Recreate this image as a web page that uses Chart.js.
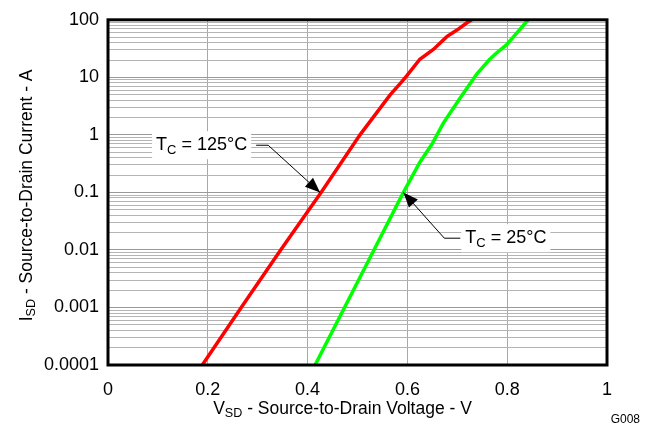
<!DOCTYPE html>
<html>
<head>
<meta charset="utf-8">
<script src="https://cdn.jsdelivr.net/npm/chart.js@4.4.1/dist/chart.umd.min.js"></script>
<style>
  html, body { margin: 0; padding: 0; background: #fff; }
  #grafico { display: block; }
</style>
</head>
<body>
<canvas id="grafico" width="652" height="426"></canvas>
<script>
// Curva Tc = 125 °C (roja)
const vsd125 = [0.189, 0.267, 0.346, 0.427, 0.505, 0.565, 0.585, 0.599, 0.625, 0.652, 0.679, 0.700, 0.718, 0.729];
const isd125 = [0.0001, 0.001, 0.01, 0.1, 1, 4.9, 7.7, 10.7, 20.6, 30.5, 51, 67, 87, 100];

// Curva Tc = 25 °C (verde)
const vsd25 = [0.415, 0.474, 0.533, 0.592, 0.625, 0.649, 0.672, 0.705, 0.739, 0.765, 0.779, 0.799, 0.842];
const isd25 = [0.0001, 0.001, 0.01, 0.1, 0.334, 0.686, 1.6, 4.3, 11.4, 20.6, 26.7, 37, 100];

// Ticks
const ticksX = [0, 0.2, 0.4, 0.6, 0.8, 1];
const decadasY = [0.0001, 0.001, 0.01, 0.1, 1, 10, 100];

const fuente = "'Liberation Sans', Arial, sans-serif";

function puntos(xs, ys) {
  return xs.map((x, i) => ({ x: x, y: ys[i] }));
}

// Texto con subíndices: partes = [{t, sub}]
function anchoRico(ctx, partes, tam) {
  let w = 0;
  partes.forEach(p => {
    ctx.font = (p.sub ? tam * 0.72 : tam) + "px " + fuente;
    w += ctx.measureText(p.t).width;
  });
  return w;
}

function dibujarRico(ctx, partes, x, y, tam) {
  ctx.textBaseline = "middle";
  ctx.textAlign = "left";
  partes.forEach(p => {
    const t = p.sub ? tam * 0.72 : tam;
    ctx.font = t + "px " + fuente;
    ctx.fillText(p.t, x, p.sub ? y + tam * 0.28 : y);
    x += ctx.measureText(p.t).width;
  });
}

// Etiquetas con flecha (en coordenadas de datos)
const anotaciones = [
  { partes: [{ t: "T" }, { t: "C", sub: true }, { t: " = 125°C" }], punta: [0.425, 0.1], codo: [0.321, 0.66], lado: "izq", tramo: 12, hueco: 9 },
  { partes: [{ t: "T" }, { t: "C", sub: true }, { t: " = 25°C" }], punta: [0.592, 0.1], codo: [0.674, 0.016], lado: "der", tramo: 16, hueco: 5 }
];

const pluginDecorado = {
  id: "decorado",
  afterDatasetsDraw(chart) {
    const ctx = chart.ctx;
    const sx = chart.scales.x;
    const sy = chart.scales.y;
    const area = chart.chartArea;
    const tam = 18;
    const tamTitulo = 17.5;

    ctx.save();
    // Anotaciones
    anotaciones.forEach(a => {
      const px = sx.getPixelForValue(a.punta[0]);
      const py = sy.getPixelForValue(a.punta[1]);
      const cx = sx.getPixelForValue(a.codo[0]);
      const cy = sy.getPixelForValue(a.codo[1]);
      const w = anchoRico(ctx, a.partes, tam);
      const ex = a.lado === "izq" ? cx - a.tramo : cx + a.tramo;
      const tx = a.lado === "izq" ? ex - a.hueco - w : ex + a.hueco;

      // fondo blanco
      ctx.fillStyle = "#fff";
      ctx.fillRect(tx - 4, cy - 14, w + 8, 28);

      // línea
      ctx.strokeStyle = "#000";
      ctx.lineWidth = 1;
      ctx.beginPath();
      ctx.moveTo(ex, cy);
      ctx.lineTo(cx, cy);
      ctx.lineTo(px, py);
      ctx.stroke();

      // punta de flecha
      const ang = Math.atan2(py - cy, px - cx);
      const largo = 15, medio = 6;
      ctx.fillStyle = "#000";
      ctx.beginPath();
      ctx.moveTo(px, py);
      ctx.lineTo(px - largo * Math.cos(ang) + medio * Math.sin(ang), py - largo * Math.sin(ang) - medio * Math.cos(ang));
      ctx.lineTo(px - largo * Math.cos(ang) - medio * Math.sin(ang), py - largo * Math.sin(ang) + medio * Math.cos(ang));
      ctx.closePath();
      ctx.fill();

      ctx.fillStyle = "#000";
      dibujarRico(ctx, a.partes, tx, cy, tam);
    });

    // Marco
    ctx.strokeStyle = "#000";
    ctx.lineWidth = 3;
    ctx.strokeRect(area.left, area.top, area.right - area.left, area.bottom - area.top);

    // Título eje X
    ctx.fillStyle = "#000";
    const tituloX = [{ t: "V" }, { t: "SD", sub: true }, { t: " - Source-to-Drain Voltage - V" }];
    const wx = anchoRico(ctx, tituloX, tamTitulo);
    const centroX = (area.left + area.right) / 2 - 15;
    dibujarRico(ctx, tituloX, centroX - wx / 2, 409, tamTitulo);

    // Título eje Y
    const tituloY = [{ t: "I" }, { t: "SD", sub: true }, { t: " - Source-to-Drain Current - A" }];
    const wy = anchoRico(ctx, tituloY, tamTitulo);
    ctx.save();
    ctx.translate(27, (area.top + area.bottom) / 2 + 3);
    ctx.rotate(-Math.PI / 2);
    dibujarRico(ctx, tituloY, -wy / 2, 0, tamTitulo);
    ctx.restore();

    // Código de figura
    ctx.font = "12px " + fuente;
    ctx.textAlign = "right";
    ctx.textBaseline = "middle";
    ctx.fillText("G008", 640, 420);
    ctx.restore();
  }
};

document.addEventListener("DOMContentLoaded", () => {
  const ctx = document.getElementById("grafico").getContext("2d");

  new Chart(ctx, {
    type: "scatter",
    data: {
      datasets: [
        {
          label: "Tc = 125°C",
          data: puntos(vsd125, isd125),
          showLine: true,
          borderColor: "#ff0000",
          borderWidth: 3.5,
          pointRadius: 0,
          tension: 0
        },
        {
          label: "Tc = 25°C",
          data: puntos(vsd25, isd25),
          showLine: true,
          borderColor: "#00ff00",
          borderWidth: 3.5,
          pointRadius: 0,
          tension: 0
        }
      ]
    },
    options: {
      responsive: false,
      animation: false,
      events: [],
      layout: {
        padding: { top: 13, right: 45, left: 0, bottom: 0 }
      },
      plugins: {
        legend: { display: false },
        tooltip: { enabled: false }
      },
      scales: {
        x: {
          type: "linear",
          min: 0,
          max: 1,
          afterBuildTicks: (escala) => {
            escala.ticks = ticksX.map(v => ({ value: v }));
          },
          afterFit: (escala) => { escala.height = 61; },
          border: { display: false },
          grid: { color: "#a8a8a8", lineWidth: 1, drawTicks: false },
          ticks: {
            color: "#000",
            padding: 14,
            font: { family: fuente, size: 18 },
            callback: (v) => String(v)
          }
        },
        y: {
          type: "logarithmic",
          min: 0.0001,
          max: 100,
          afterBuildTicks: (escala) => {
            const lista = [];
            decadasY.forEach((d, i) => {
              if (i === decadasY.length - 1) {
                lista.push({ value: d });
                return;
              }
              for (let k = 1; k <= 9; k++) {
                lista.push({ value: Number((d * k).toPrecision(3)) });
              }
            });
            escala.ticks = lista;
          },
          afterFit: (escala) => { escala.width = 108; },
          border: { display: false },
          grid: {
            drawTicks: false,
            lineWidth: 1,
            color: (c) => decadasY.includes(c.tick.value) ? "#999999" : "#b4b4b4"
          },
          ticks: {
            autoSkip: false,
            color: "#000",
            padding: 9,
            font: { family: fuente, size: 18 },
            callback: (v) => decadasY.includes(v) ? String(v) : ""
          }
        }
      }
    },
    plugins: [pluginDecorado]
  });
});
</script>
</body>
</html>
